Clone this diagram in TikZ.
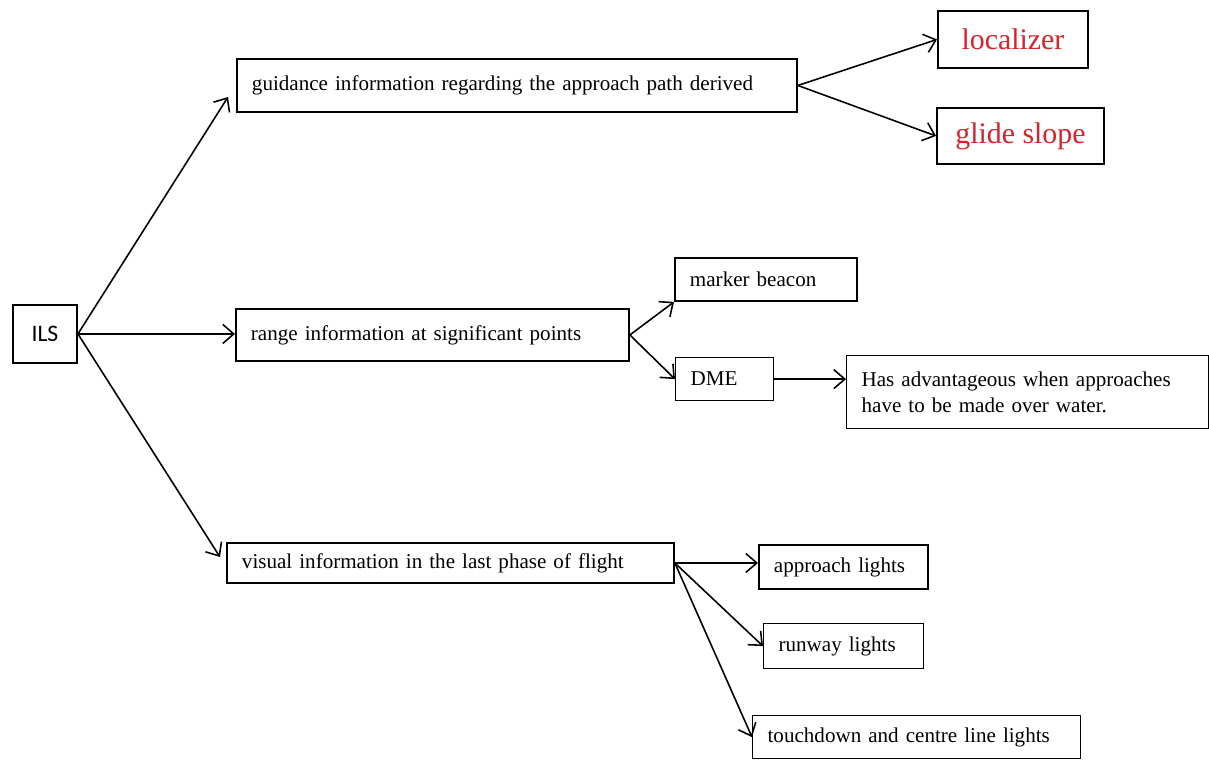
\documentclass[tikz,border=0pt]{standalone}
\usepackage{fontspec}
\setmainfont{Liberation Serif}
\newfontfamily\ilsfont{Carlito}
\usetikzlibrary{arrows.meta}
\definecolor{locred}{RGB}{222,32,42}

\begin{document}
\begin{tikzpicture}[x=0.02cm,y=-0.02cm,
	>={Straight Barb[length=2.2mm,width=3.8mm]},
	box/.style={draw, line width=1.1pt, anchor=north west, inner ysep=0pt,
		font=\fontsize{12}{14.5}\selectfont},
	thinbox/.style={box, line width=0.7pt},
	lbox/.style={align=left, inner xsep=3mm},
	redbox/.style={box, text=locred, font=\fontsize{17}{20}\selectfont},
	arr/.style={->, line width=0.9pt}]
\useasboundingbox (0,0) rectangle (1209,760);
\node[box, minimum width=12.8mm, minimum height=11.6mm, font=\ilsfont\fontsize{13.5}{15}\selectfont]
	(ils) at (12,304) {ILS};
\node[box, lbox, text width=106mm, minimum height=10.6mm] (guid) at (236,58)
	{guidance information regarding the approach path derived};
\node[box, lbox, text width=72.6mm, minimum height=10.4mm] (range) at (235,308)
	{range information at significant points};
\node[box, lbox, text width=83.4mm, minimum height=8mm] (vis) at (226,542)
	{visual information in the last phase of flight};
\node[redbox, minimum width=30mm, minimum height=11.4mm] (loc) at (937,10) {localizer};
\node[redbox, minimum width=33.4mm, minimum height=11.2mm] (glide) at (936,107) {glide slope};
\node[box, lbox, text width=30.4mm, minimum height=8.6mm] (marker) at (674,257) {marker beacon};
\node[thinbox, lbox, text width=13.6mm, minimum height=8.6mm] (dme) at (675,357) {DME};
\node[thinbox, lbox, text width=66.4mm, minimum height=14.6mm] (adv) at (846,355)
	{Has advantageous when approaches\\have to be made over water.};
\node[box, lbox, text width=27.8mm, minimum height=8.8mm] (app) at (758,544) {approach lights};
\node[thinbox, lbox, text width=26mm, minimum height=9mm] (run) at (763,623) {runway lights};
\node[thinbox, lbox, text width=59.6mm, minimum height=8.6mm] (touch) at (752,715)
	{touchdown and centre line lights};
\coordinate (gin) at (228,97);
\coordinate (vin) at (220,557);
\draw[arr] (ils.east) -- (gin);
\draw[arr] (ils.east) -- (ils.east -| range.west);
\draw[arr] (ils.east) -- (vin);
\draw[arr] (guid.east) -- (loc.west);
\draw[arr] (guid.east) -- (glide.west);
\draw[arr] (range.east) -- (marker.south west);
\draw[arr] (range.east) -- (dme.west);
\draw[arr] (dme.east) -- (dme.east -| adv.west);
\draw[arr] (vis.east) -- (vis.east -| app.west);
\draw[arr] (vis.east) -- (run.west);
\draw[arr] (vis.east) -- (touch.west);
\end{tikzpicture}
\end{document}
